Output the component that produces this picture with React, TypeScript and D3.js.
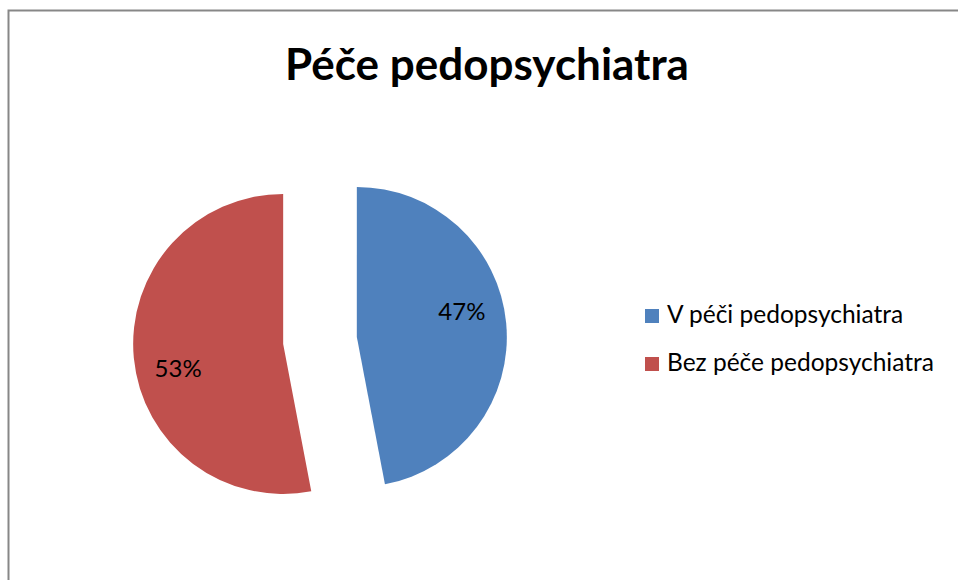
import { useEffect, useRef } from 'react'
import * as d3 from 'd3'

const categories = ['V péči pedopsychiatra', 'Bez péče pedopsychiatra']
const values = [47, 53]
const colors = ['#4F81BD', '#C0504D']
const title = 'Péče pedopsychiatra'

const WIDTH = 958
const HEIGHT = 580
const FONT = 'Lato, "Open Sans", sans-serif'

export default function App() {
  const svgRef = useRef<SVGSVGElement | null>(null)

  useEffect(() => {
    const svgEl = svgRef.current
    if (!svgEl) return
    const svg = d3.select(svgEl)
    svg.selectAll('*').remove()

    // chart frame (runs off the right/bottom edge like the reference)
    svg
      .append('rect')
      .attr('x', 8.5)
      .attr('y', 10.5)
      .attr('width', WIDTH + 20)
      .attr('height', HEIGHT + 20)
      .attr('fill', '#fff')
      .attr('stroke', '#878787')
      .attr('stroke-width', 2)

    svg
      .append('text')
      .attr('x', 487)
      .attr('y', 80)
      .attr('text-anchor', 'middle')
      .attr('font-family', FONT)
      .attr('font-weight', 700)
      .attr('font-size', 44)
      .attr('fill', '#000')
      .text(title)

    const cx = 320
    const cy = 340.5
    const radius = 150
    const explode = 37

    const pie = d3
      .pie<number>()
      .sort(null)
      .value((d) => d)
    const arcs = pie(values)
    const arc = d3.arc<d3.PieArcDatum<number>>().innerRadius(0).outerRadius(radius)

    const g = svg.append('g').attr('transform', `translate(${cx},${cy})`)

    const slices = g
      .selectAll('g.slice')
      .data(arcs)
      .enter()
      .append('g')
      .attr('class', 'slice')
      .attr('transform', (d) => {
        const mid = (d.startAngle + d.endAngle) / 2
        return `translate(${Math.sin(mid) * explode},${-Math.cos(mid) * explode})`
      })

    slices
      .append('path')
      .attr('d', (d) => arc(d) ?? '')
      .attr('fill', (_, i) => colors[i])
      .attr('stroke', 'none')

    const total = d3.sum(values)
    slices
      .append('text')
      .attr('x', (d) => {
        const a = (d.startAngle + d.endAngle) / 2 - 0.14
        return Math.sin(a) * 108
      })
      .attr('y', (d) => {
        const a = (d.startAngle + d.endAngle) / 2 - 0.14
        return -Math.cos(a) * 108
      })
      .attr('dy', '0.35em')
      .attr('text-anchor', 'middle')
      .attr('font-family', FONT)
      .attr('font-size', 24)
      .attr('fill', '#000')
      .text((d) => `${Math.round((d.value / total) * 100)}%`)

    // legend
    const legend = svg.append('g').attr('transform', 'translate(645,309)')
    const item = legend
      .selectAll('g')
      .data(categories)
      .enter()
      .append('g')
      .attr('transform', (_, i) => `translate(0,${i * 48})`)

    item
      .append('rect')
      .attr('width', 14)
      .attr('height', 14)
      .attr('fill', (_, i) => colors[i])

    item
      .append('text')
      .attr('x', 22)
      .attr('y', 14)
      .attr('font-family', FONT)
      .attr('font-size', 24.5)
      .attr('fill', '#000')
      .text((d) => d)
  }, [])

  return (
    <svg
      ref={svgRef}
      width={WIDTH}
      height={HEIGHT}
      style={{ position: 'absolute', left: 0, top: 0, display: 'block' }}
    />
  )
}
